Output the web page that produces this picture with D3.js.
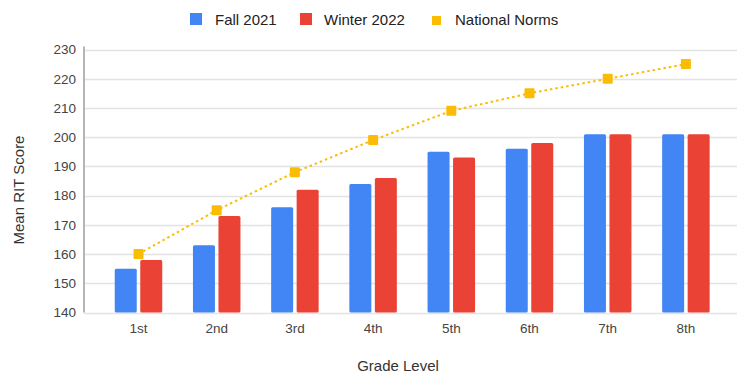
<!DOCTYPE html>
<html>
<head>
<meta charset="utf-8">
<script src="https://cdn.jsdelivr.net/npm/d3@7"></script>
<style>
  html, body { margin: 0; padding: 0; background: #fff; }
  svg { display: block; font-family: Arial, "Liberation Sans", sans-serif; }
</style>
</head>
<body>
<svg id="chart" width="737" height="374"></svg>
<script>
// Grade levels and mean RIT scores
const grades = ["1st", "2nd", "3rd", "4th", "5th", "6th", "7th", "8th"];
const fall2021 = [155, 163, 176, 184, 195, 196, 201, 201];
const winter2022 = [158, 173, 182, 186, 193, 198, 201, 201];
const nationalNorms = [160, 175, 188, 199, 209, 215, 220, 225];
const yTicks = [140, 150, 160, 170, 180, 190, 200, 210, 220, 230];

const seriesNames = ["Fall 2021", "Winter 2022", "National Norms"];
const colors = { fall: "#4285f4", winter: "#ea4335", norms: "#fbbc04" };

const svg = d3.select("#chart");
const axisX = 84;
const plotTop = 49.5, plotBottom = 312.5;

const x = d3.scaleBand().domain(grades).range([99.4, 725]).paddingInner(0).paddingOuter(0);
const y = d3.scaleLinear().domain([140, 230]).range([plotBottom, plotTop]);

const barW = 22, barGap = 3.5;

// horizontal gridlines
svg.append("g")
  .selectAll("line")
  .data(yTicks)
  .join("line")
  .attr("x1", axisX).attr("x2", 737)
  .attr("y1", d => Math.round(y(d)) + 0.5).attr("y2", d => Math.round(y(d)) + 0.5)
  .attr("stroke", "#e3e3e3").attr("stroke-width", 1.5);

// y axis via d3.axisLeft, styled as plain labels
const yAxis = svg.append("g")
  .attr("transform", `translate(${axisX - 8},0)`)
  .call(d3.axisLeft(y).tickValues(yTicks).tickSize(0).tickPadding(0));
yAxis.select(".domain").remove();
yAxis.selectAll("text")
  .attr("font-size", 13.5).attr("fill", "#444").attr("font-family", "Arial, 'Liberation Sans', sans-serif");

// vertical baseline
svg.append("line")
  .attr("x1", axisX).attr("x2", axisX).attr("y1", plotTop - 3).attr("y2", plotBottom)
  .attr("stroke", "#b5b5b5").attr("stroke-width", 2);

// bars
const bars = svg.append("g");
bars.selectAll("rect.fall")
  .data(grades)
  .join("rect")
  .attr("class", "fall")
  .attr("x", d => x(d) + x.bandwidth() / 2 - barGap / 2 - barW)
  .attr("width", barW)
  .attr("y", (d, i) => y(fall2021[i]))
  .attr("height", (d, i) => y(140) - y(fall2021[i]))
  .attr("rx", 1.5)
  .attr("fill", colors.fall);
bars.selectAll("rect.winter")
  .data(grades)
  .join("rect")
  .attr("class", "winter")
  .attr("x", d => x(d) + x.bandwidth() / 2 + barGap / 2)
  .attr("width", barW)
  .attr("y", (d, i) => y(winter2022[i]))
  .attr("height", (d, i) => y(140) - y(winter2022[i]))
  .attr("rx", 1.5)
  .attr("fill", colors.winter);

// national norms dotted line with square markers
const line = d3.line()
  .x((d, i) => x(grades[i]) + x.bandwidth() / 2)
  .y(d => y(d));
svg.append("path")
  .datum(nationalNorms)
  .attr("d", line)
  .attr("fill", "none")
  .attr("stroke", colors.norms)
  .attr("stroke-width", 2)
  .attr("stroke-dasharray", "2.5,3");
const mk = 10;
svg.append("g")
  .selectAll("rect")
  .data(nationalNorms)
  .join("rect")
  .attr("x", (d, i) => x(grades[i]) + x.bandwidth() / 2 - mk / 2)
  .attr("y", d => y(d) - mk / 2)
  .attr("width", mk).attr("height", mk)
  .attr("rx", 1)
  .attr("fill", colors.norms);

// x axis labels
const xAxis = svg.append("g")
  .attr("transform", `translate(0,${plotBottom + 11})`)
  .call(d3.axisBottom(x).tickSize(0).tickPadding(0));
xAxis.select(".domain").remove();
xAxis.selectAll("text")
  .attr("font-size", 13.5).attr("fill", "#444").attr("font-family", "Arial, 'Liberation Sans', sans-serif");

// axis titles
svg.append("text")
  .attr("x", 398).attr("y", 371)
  .attr("text-anchor", "middle")
  .attr("font-size", 15).attr("fill", "#333")
  .text("Grade Level");
svg.append("text")
  .attr("transform", "translate(24,190) rotate(-90)")
  .attr("text-anchor", "middle")
  .attr("font-size", 15).attr("fill", "#333")
  .text("Mean RIT Score");

// legend
const legendItems = [
  { name: seriesNames[0], color: colors.fall, sx: 190, size: 12, tx: 215 },
  { name: seriesNames[1], color: colors.winter, sx: 300, size: 12, tx: 324 },
  { name: seriesNames[2], color: colors.norms, sx: 432, size: 9, tx: 455 }
];
const legend = svg.append("g");
legendItems.forEach(it => {
  legend.append("rect")
    .attr("x", it.sx).attr("y", 19 - it.size / 2 + (it.size < 12 ? 1.5 : 0))
    .attr("width", it.size).attr("height", it.size)
    .attr("fill", it.color);
  legend.append("text")
    .attr("x", it.tx).attr("y", 24.5)
    .attr("font-size", 15).attr("fill", "#222")
    .text(it.name);
});
</script>
</body>
</html>
